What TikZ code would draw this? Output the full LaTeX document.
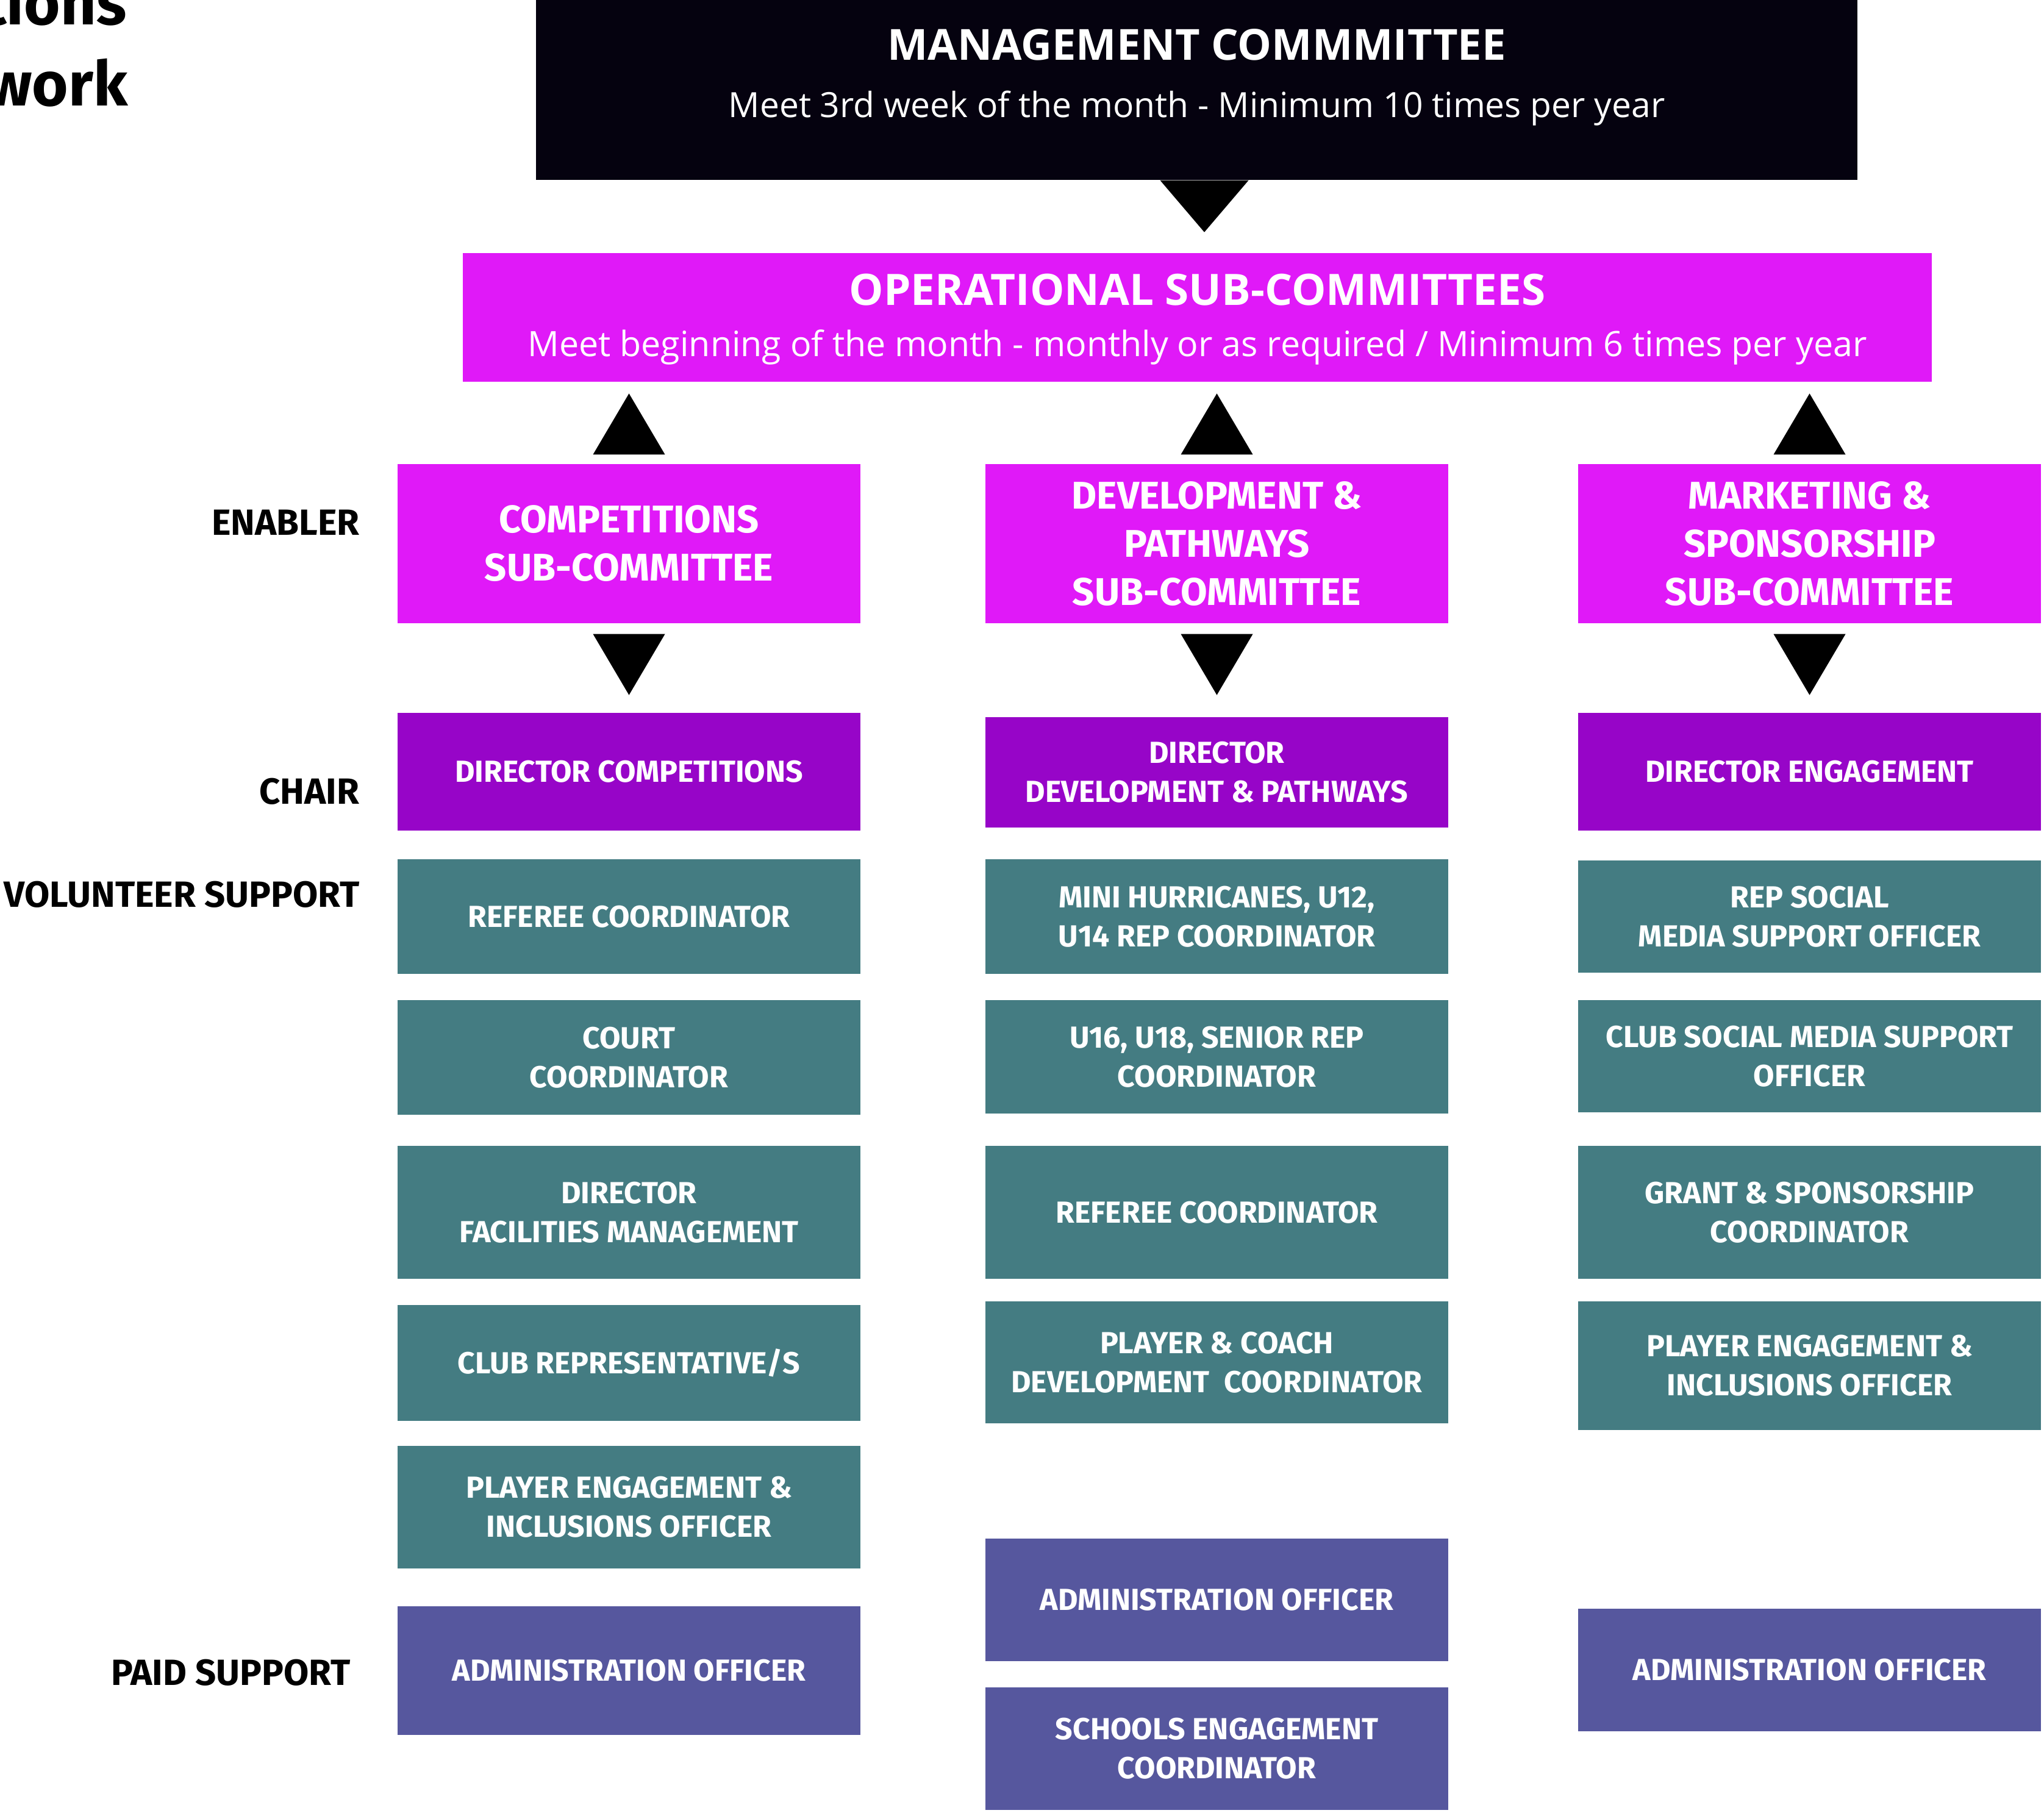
\documentclass[tikz,border=0pt]{standalone}
\usepackage{fontspec}
\setmainfont{Fira Sans}
\newfontfamily\headfont{Open Sans}
\usetikzlibrary{calc}

\definecolor{mgmtblack}{HTML}{05020F}
\definecolor{opsmagenta}{HTML}{E019F8}
\definecolor{chairpurple}{HTML}{9705C8}
\definecolor{volteal}{HTML}{447C82}
\definecolor{paidblue}{HTML}{56579E}

\begin{document}
\begin{tikzpicture}[
    every node/.style={inner sep=0pt, align=center},
    cbox/.style={minimum width=7.59cm, text=white, font=\fontsize{14.2}{18.2}\selectfont\bfseries},
    enabler/.style={cbox, fill=opsmagenta, minimum height=2.61cm, font=\fontsize{18}{22.5}\selectfont\bfseries},
    chair/.style={cbox, fill=chairpurple},
    vol/.style={cbox, fill=volteal},
    paid/.style={cbox, fill=paidblue},
    rowlabel/.style={anchor=east, font=\fontsize{17}{18}\selectfont\bfseries},
    tri/.style={fill=black}
  ]
            \useasboundingbox (0,0) rectangle (33.52,-29.72);
            \clip (0,0) rectangle (33.52,-29.72);

            % Title, cut off by the page edge
            \node (titleA) [anchor=base east, font=\fontsize{29}{30}\selectfont\bfseries] at (2.08,-0.40) {tions};
            \node (titleB) [anchor=base east, font=\fontsize{29}{30}\selectfont\bfseries] at (2.10,-1.73) {work};

            % Committees
            \node (mgmt) [fill=mgmtblack, minimum width=21.67cm, minimum height=2.95cm] at (19.625,-1.475) {};
            \node (mgmttitle) [text=white, font=\headfont\fontsize{20}{20}\selectfont\bfseries] at (19.625,-0.73) {MANAGEMENT COMMMITTEE};
            \node (mgmtsub) [text=white, font=\headfont\fontsize{16.2}{16}\selectfont] at (19.625,-1.78) {Meet 3rd week of the month - Minimum 10 times per year};

            \node (ops) [fill=opsmagenta, minimum width=24.09cm, minimum height=2.11cm] at (19.635,-5.205) {};
            \node (opstitle) [text=white, font=\headfont\fontsize{20.2}{20}\selectfont\bfseries] at (19.635,-4.75) {OPERATIONAL SUB-COMMITTEES};
            \node (opssub) [text=white, font=\headfont\fontsize{16.3}{16}\selectfont] at (19.635,-5.69) {Meet beginning of the month - monthly or as required / Minimum 6 times per year};

            \fill[tri] ($(mgmt.south)+(-0.60,0)$) -- ($(mgmt.south)+(0.85,0)$) -- ($(mgmt.south)+(0.125,-0.85)$) -- cycle;

            % Row labels
            \node (lenabler) [rowlabel] at (5.90,-8.57) {ENABLER};
            \node (lchair) [rowlabel] at (5.90,-12.98) {CHAIR};
            \node (lvol) [rowlabel] at (5.90,-14.67) {VOLUNTEER SUPPORT};
            \node (lpaid) [rowlabel] at (5.75,-27.43) {PAID SUPPORT};

            % Enabler sub-committees
            \node (en1) [enabler] at (10.315,-8.915) {COMPETITIONS\\SUB-COMMITTEE};
            \node (en2) [enabler] at (19.955,-8.915) {DEVELOPMENT \&\\PATHWAYS\\SUB-COMMITTEE};
            \node (en3) [enabler] at (29.675,-8.915) {MARKETING \&\\SPONSORSHIP\\SUB-COMMITTEE};

            \foreach \c in {en1,en2,en3} {
                \fill[tri] ($(\c.north)+(-0.59,0.15)$) -- ($(\c.north)+(0.59,0.15)$) -- ($(\c.north)+(0,1.15)$) -- cycle;
                \fill[tri] ($(\c.south)+(-0.59,-0.17)$) -- ($(\c.south)+(0.59,-0.17)$) -- ($(\c.south)+(0,-1.17)$) -- cycle;
            }

            % Chairs
            \node (ch1) [chair, minimum height=1.93cm] at (10.315,-12.655) {DIRECTOR COMPETITIONS};
            \node (ch2) [chair, minimum height=1.81cm] at (19.955,-12.66) {DIRECTOR\\DEVELOPMENT \& PATHWAYS};
            \node (ch3) [chair, minimum height=1.93cm] at (29.675,-12.655) {DIRECTOR ENGAGEMENT};

            % Competitions column
            \node (v11) [vol, minimum height=1.88cm] at (10.315,-15.03) {REFEREE COORDINATOR};
            \node (v12) [vol, minimum height=1.88cm] at (10.315,-17.34) {COURT\\COORDINATOR};
            \node (v13) [vol, minimum height=2.18cm] at (10.315,-19.88) {DIRECTOR\\FACILITIES MANAGEMENT};
            \node (v14) [vol, minimum height=1.90cm] at (10.315,-22.35) {CLUB REPRESENTATIVE/S};
            \node (v15) [vol, minimum height=2.01cm] at (10.315,-24.71) {PLAYER ENGAGEMENT \&\\INCLUSIONS OFFICER};
            \node (p11) [paid, minimum height=2.11cm] at (10.315,-27.39) {ADMINISTRATION OFFICER};

            % Development column
            \node (v21) [vol, minimum height=1.88cm] at (19.955,-15.03) {MINI HURRICANES, U12,\\U14 REP COORDINATOR};
            \node (v22) [vol, minimum height=1.86cm] at (19.955,-17.33) {U16, U18, SENIOR REP\\COORDINATOR};
            \node (v23) [vol, minimum height=2.18cm] at (19.955,-19.88) {REFEREE COORDINATOR};
            \node (v24) [vol, minimum height=2.00cm] at (19.955,-22.34) {PLAYER \& COACH\\DEVELOPMENT~ COORDINATOR};
            \node (p21) [paid, minimum height=2.01cm] at (19.955,-26.235) {ADMINISTRATION OFFICER};
            \node (p22) [paid, minimum height=2.01cm] at (19.955,-28.67) {SCHOOLS ENGAGEMENT\\COORDINATOR};

            % Marketing column
            \node (v31) [vol, minimum height=1.84cm] at (29.675,-15.03) {REP SOCIAL\\MEDIA SUPPORT OFFICER};
            \node (v32) [vol, minimum height=1.84cm] at (29.675,-17.32) {CLUB SOCIAL MEDIA SUPPORT\\OFFICER};
            \node (v33) [vol, minimum height=2.18cm] at (29.675,-19.88) {GRANT \& SPONSORSHIP\\COORDINATOR};
            \node (v34) [vol, minimum height=2.11cm] at (29.675,-22.395) {PLAYER ENGAGEMENT \&\\INCLUSIONS OFFICER};
            \node (p31) [paid, minimum height=2.01cm] at (29.675,-27.385) {ADMINISTRATION OFFICER};

        \end{tikzpicture}
\end{document}
